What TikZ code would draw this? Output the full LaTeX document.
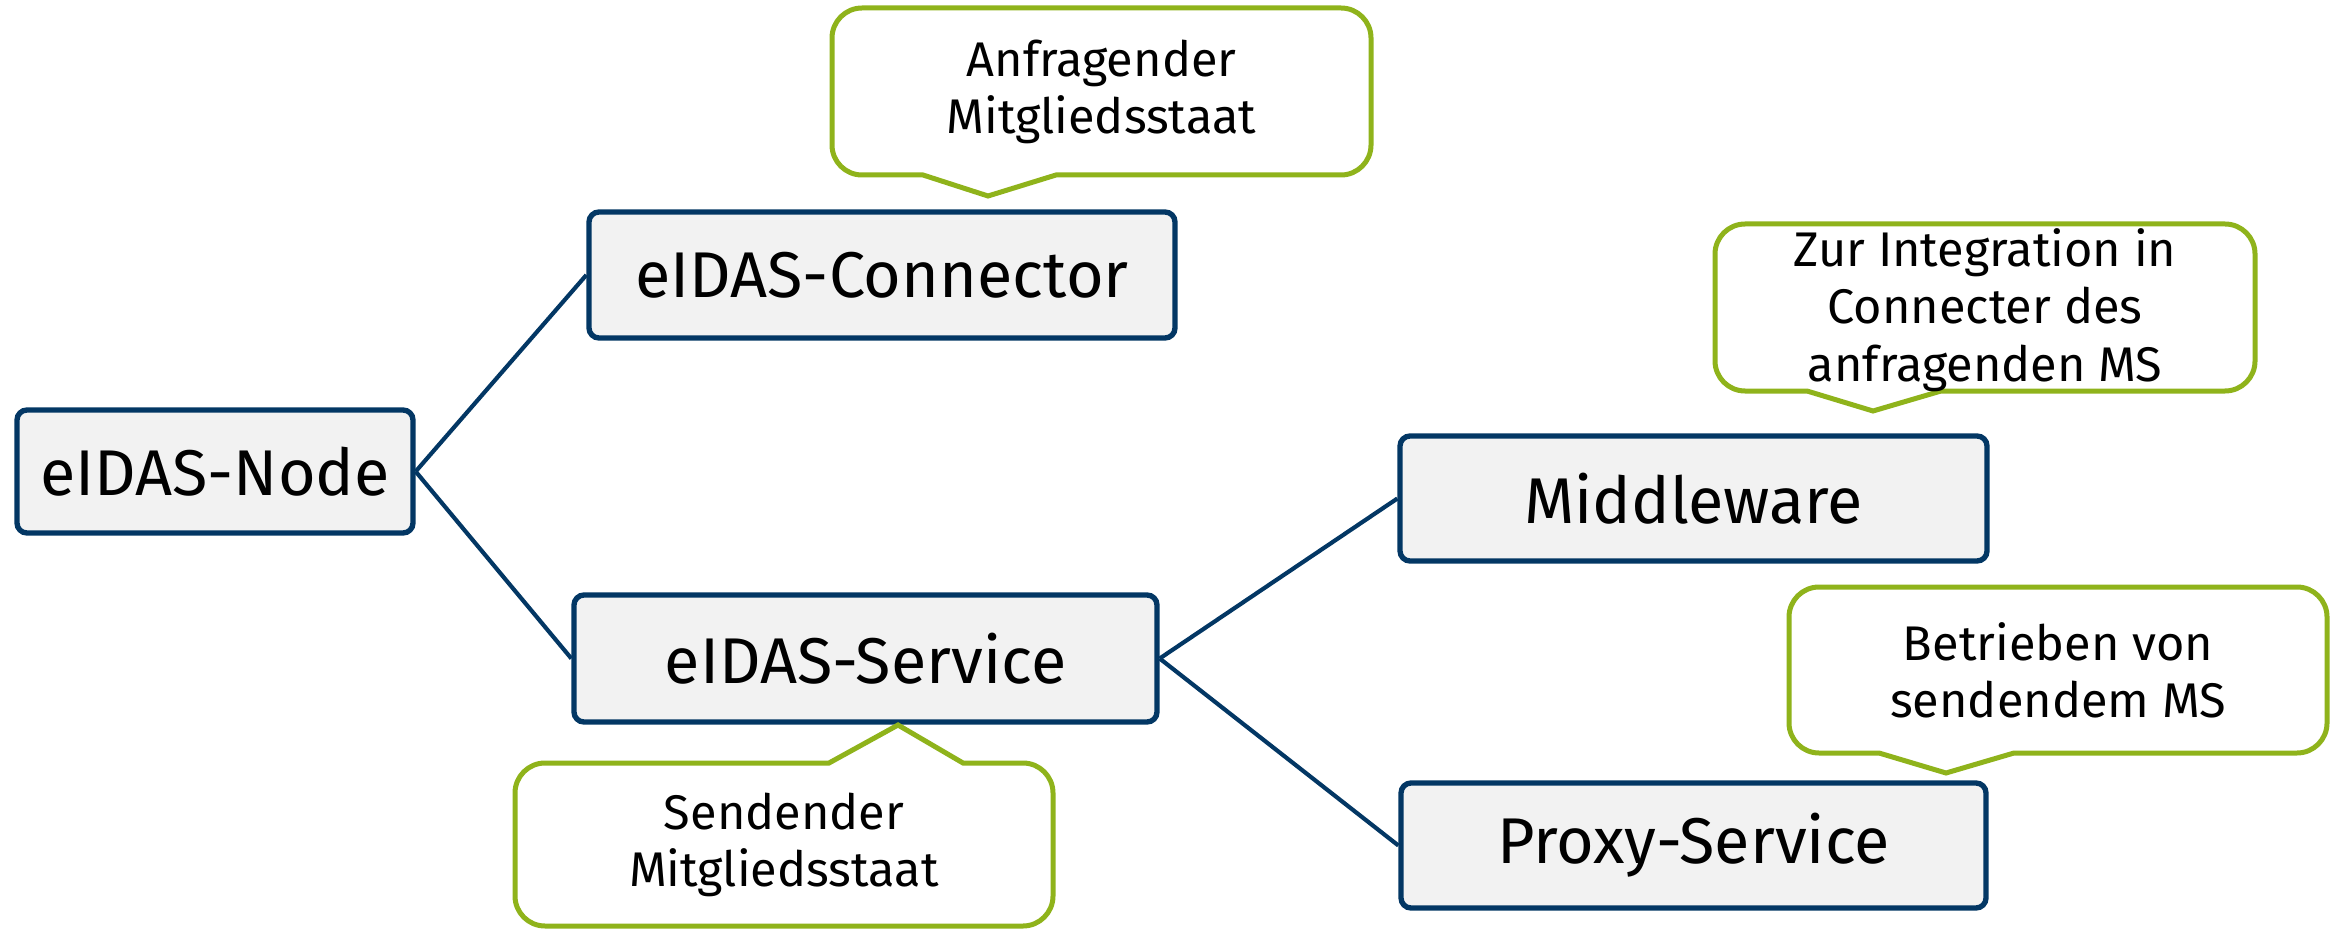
\documentclass[tikz,border=0pt]{standalone}
\usepackage{fontspec}
\setmainfont{Fira Sans}
\definecolor{navy}{HTML}{033764}
\definecolor{leaf}{HTML}{8FB31B}
\definecolor{boxfill}{HTML}{F2F2F2}
\tikzset{
  unitbox/.style={draw=navy, line width=1.6pt, fill=boxfill, rounded corners=3pt,
    font=\fontsize{19.4}{23}\selectfont, inner sep=0pt},
  link/.style={draw=navy, line width=1.25pt},
  bubble/.style={draw=leaf, line width=1.5pt, fill=white, line join=miter},
  bubbletext/.style={align=center, font=\fontsize{14.6}{17.2}\selectfont, inner sep=0pt}
}
\begin{document}
\begin{tikzpicture}[x=0.3pt,y=-0.3pt]
\useasboundingbox (0,0) rectangle (2341,929);

% component boxes
\node[unitbox, minimum width=118.8pt, minimum height=36.9pt] (node) at (215,471.5) {eIDAS-Node};
\node[unitbox, minimum width=175.8pt, minimum height=37.8pt] (conn) at (882,275) {eIDAS-Connector};
\node[unitbox, minimum width=174.9pt, minimum height=38.1pt] (serv) at (865.5,658.5) {eIDAS-Service};
\node[unitbox, minimum width=176.1pt, minimum height=37.5pt] (mid) at (1693.5,498.5) {Middleware};
\node[unitbox, minimum width=175.5pt, minimum height=37.5pt] (proxy) at (1693.5,845.5) {Proxy-Service};

% tree links
\draw[link] (node.east) -- (conn.west);
\draw[link] (node.east) -- (serv.west);
\draw[link] (serv.east) -- (mid.west);
\draw[link] (serv.east) -- (proxy.west);

% speech bubbles
\draw[bubble, rounded corners=9pt] (1371,91) -- (1371,175) [sharp corners] -- (1056,175) -- (988,196) -- (923,175)
  [rounded corners=9pt] -- (832,175) -- (832,8) -- (1371,8) -- cycle;
\node[bubbletext] (noteA) at (1101.5,92) {Anfragender\\Mitgliedsstaat};

\draw[bubble, rounded corners=9pt] (2255,307) -- (2255,391) [sharp corners] -- (1941,391) -- (1873,411) -- (1807,391)
  [rounded corners=9pt] -- (1715,391) -- (1715,224) -- (2255,224) -- cycle;
\node[bubbletext] (noteZ) at (1985,310) {Zur Integration in\\Connecter des\\anfragenden MS};

\draw[bubble, rounded corners=9pt] (2327,670) -- (2327,753) [sharp corners] -- (2014,753) -- (1946,773) -- (1879,753)
  [rounded corners=9pt] -- (1789,753) -- (1789,587) -- (2327,587) -- cycle;
\node[bubbletext] (noteB) at (2058,670) {Betrieben von\\sendendem MS};

\draw[bubble, rounded corners=9pt] (515,844) -- (515,763) [sharp corners] -- (829,763) -- (898,725) -- (963,763)
  [rounded corners=9pt] -- (1053,763) -- (1053,926) -- (515,926) -- cycle;
\node[bubbletext] (noteS) at (784,845) {Sendender\\Mitgliedsstaat};
\end{tikzpicture}
\end{document}
